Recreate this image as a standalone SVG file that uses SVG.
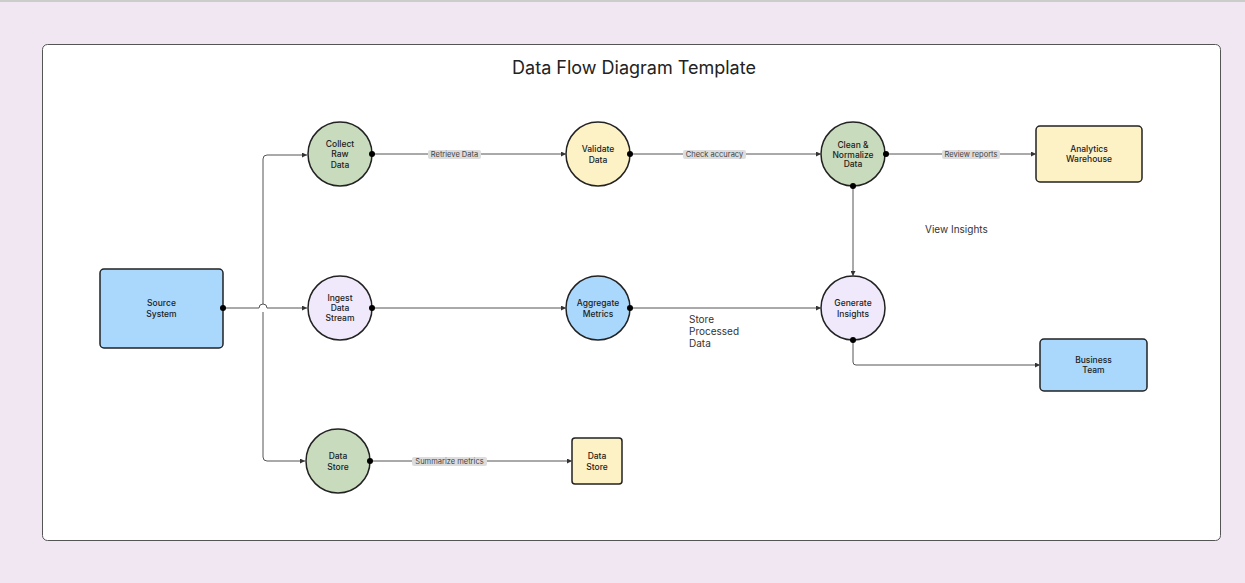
<svg xmlns="http://www.w3.org/2000/svg" width="1245" height="583" viewBox="0 0 1245 583">
<style>
text{font-family:Inter,"Liberation Sans",sans-serif;fill:#222;text-anchor:middle}
.n{font-size:8.5px;font-weight:500}
.node{stroke:#222;stroke-width:1.5}
.c{fill:none;stroke:#555;stroke-width:1}
.lb{fill:#ddd}
.l{font-size:7.5px;fill:#444}
</style>
<defs>
<marker id="a" viewBox="0 0 6 6" refX="6" refY="3" markerWidth="5" markerHeight="5" orient="auto"><path d="M0,0L6,3L0,6z" fill="#333"/></marker>
<marker id="d" viewBox="0 0 6 6" refX="3" refY="3" markerWidth="6" markerHeight="6" markerUnits="userSpaceOnUse"><circle cx="3" cy="3" r="3" fill="#000"/></marker>
</defs>
<rect width="1245" height="583" fill="#f0e7f2"/>
<rect width="1245" height="2" fill="#ccc"/>
<rect x="42.5" y="44.5" width="1178" height="496" rx="5" fill="#fff" stroke="#555"/>
<text x="634" y="74" style="font-size:18px">Data Flow Diagram Template</text>
<g id="source"><rect class="node" x="100" y="269" width="123" height="79" rx="4" fill="#aad8fd"/><text class="n" x="161.5" y="306">Source</text><text class="n" x="161.5" y="317">System</text></g>
<g id="collect"><circle class="node" cx="340" cy="154" r="32" fill="#c9dbbd"/><text class="n"><tspan x="340" y="147">Collect</tspan><tspan x="340" y="157">Raw</tspan><tspan x="340" y="168">Data</tspan></text></g>
<g id="validate"><circle class="node" cx="598" cy="154" r="32" fill="#fdf1c6"/><text class="n"><tspan x="598" y="152">Validate</tspan><tspan x="598" y="163">Data</tspan></text></g>
<g id="clean"><circle class="node" cx="853" cy="154" r="32" fill="#c9dbbd"/><text class="n"><tspan x="853" y="148">Clean &amp;</tspan><tspan x="853" y="158">Normalize</tspan><tspan x="853" y="167">Data</tspan></text></g>
<g id="analytics"><rect class="node" x="1036" y="126" width="106" height="56" rx="4" fill="#fdf1c6"/><text class="n" x="1089" y="152">Analytics</text><text class="n" x="1089" y="162">Warehouse</text></g>
<g id="ingest"><circle class="node" cx="340" cy="308" r="32" fill="#efe9fb"/><text class="n"><tspan x="340" y="301">Ingest</tspan><tspan x="340" y="311">Data</tspan><tspan x="340" y="321">Stream</tspan></text></g>
<g id="aggregate"><circle class="node" cx="598" cy="308" r="32" fill="#aad8fd"/><text class="n"><tspan x="598" y="306">Aggregate</tspan><tspan x="598" y="317">Metrics</tspan></text></g>
<g id="generate"><circle class="node" cx="853" cy="308" r="32" fill="#efe9fb"/><text class="n"><tspan x="853" y="306">Generate</tspan><tspan x="853" y="317">Insights</tspan></text></g>
<g id="business"><rect class="node" x="1040" y="339" width="107" height="52" rx="4" fill="#aad8fd"/><text class="n" x="1093.5" y="363">Business</text><text class="n" x="1093.5" y="373">Team</text></g>
<g id="datastore1"><circle class="node" cx="338" cy="461" r="32" fill="#c9dbbd"/><text class="n"><tspan x="338" y="459">Data</tspan><tspan x="338" y="470">Store</tspan></text></g>
<g id="datastore2"><rect class="node" x="572" y="438" width="50" height="46" rx="3" fill="#fdf1c6"/><text class="n" x="597" y="459">Data</text><text class="n" x="597" y="470">Store</text></g>
<g id="connectors">
<path class="c" d="M223,308H259a4,4 0 0 1 8,0H307" marker-start="url(#d)" marker-end="url(#a)"/>
<path class="c" d="M263,304V159a4,4 0 0 1 4,-4H307" marker-end="url(#a)"/>
<path class="c" d="M263,312V457a4,4 0 0 0 4,4H305" marker-end="url(#a)"/>
<path class="c" d="M372,154H566" marker-start="url(#d)" marker-end="url(#a)"/>
<path class="c" d="M630,154H821" marker-start="url(#d)" marker-end="url(#a)"/>
<path class="c" d="M886,154H1036" marker-start="url(#d)" marker-end="url(#a)"/>
<path class="c" d="M372,308H566" marker-start="url(#d)" marker-end="url(#a)"/>
<path class="c" d="M630,308H821" marker-start="url(#d)" marker-end="url(#a)"/>
<path class="c" d="M853,186V276" marker-start="url(#d)" marker-end="url(#a)"/>
<path class="c" d="M853,340V362a3,3 0 0 0 3,3H1040" marker-start="url(#d)" marker-end="url(#a)"/>
<path class="c" d="M370,461H572" marker-start="url(#d)" marker-end="url(#a)"/>
<rect class="lb" x="428" y="150" width="53" height="9" rx="2"/><text class="l" x="454.5" y="157">Retrieve Data</text>
<rect class="lb" x="683" y="150" width="63" height="9" rx="2"/><text class="l" x="714.5" y="157">Check accuracy</text>
<rect class="lb" x="942" y="150" width="58" height="9" rx="2"/><text class="l" x="971" y="157">Review reports</text>
<rect class="lb" x="412" y="457" width="75" height="9" rx="2"/><text class="l" x="449.5" y="464">Summarize metrics</text>
<text x="925" y="233" style="font-size:10px;text-anchor:start;fill:#333">View Insights</text>
<text style="font-size:10px;text-anchor:start;fill:#333"><tspan x="689" y="323">Store</tspan><tspan x="689" y="335">Processed</tspan><tspan x="689" y="347">Data</tspan></text>
</g>
</svg>
